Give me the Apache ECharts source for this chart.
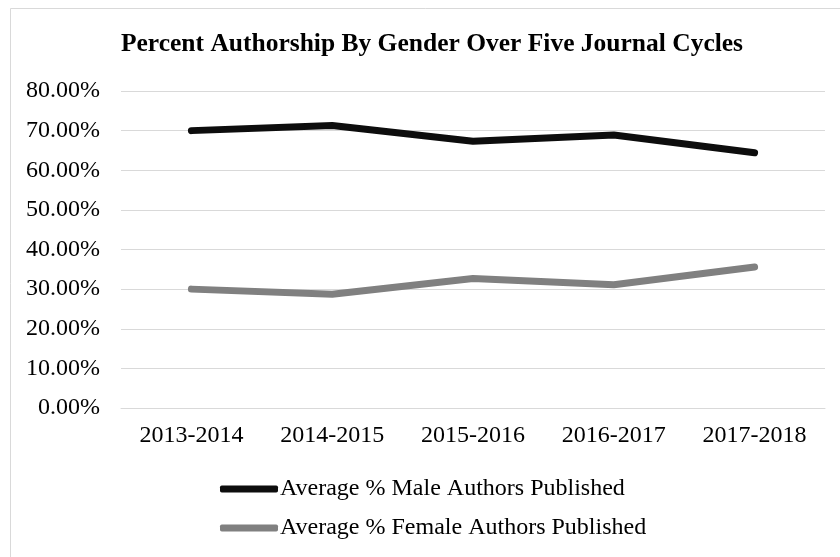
<!DOCTYPE html>
<html>
<head>
<meta charset="utf-8">
<script src="https://cdn.jsdelivr.net/npm/echarts@6/dist/echarts.min.js"></script>
<style>
  html, body { margin: 0; padding: 0; background: #fff; }
  #chart { width: 840px; height: 557px; }
</style>
</head>
<body>
<div id="chart"></div>
<script>
// Journal cycles on the x axis
const cycles = ['2013-2014', '2014-2015', '2015-2016', '2016-2017', '2017-2018'];
// Average share of published authors, in percent
const maleShare = [70.0, 71.3, 67.3, 68.9, 64.4];
const femaleShare = [30.0, 28.7, 32.7, 31.1, 35.6];
const seriesNames = ['Average % Male Authors Published', 'Average % Female Authors Published'];
const titleText = 'Percent Authorship By Gender Over Five Journal Cycles';

const FONT = "'Liberation Serif', 'Times New Roman', serif";
const chart = echarts.init(document.getElementById('chart'), null, { renderer: 'canvas' });

chart.setOption({
  backgroundColor: '#ffffff',
  animation: false,
  graphic: [
    {
      type: 'rect',
      shape: { x: 10.5, y: 8.5, width: 840, height: 560 },
      style: { fill: 'none', stroke: '#d9d9d9', lineWidth: 1 },
      silent: true
    },
    {
      type: 'text',
      x: 432,
      y: 44,
      style: {
        text: titleText,
        font: 'bold 25.5px ' + FONT,
        fill: '#000000',
        textAlign: 'center',
        textVerticalAlign: 'middle'
      }
    }
  ],
  grid: { left: 121, right: 15, top: 91, bottom: 149, containLabel: false },
  xAxis: {
    type: 'category',
    data: cycles,
    boundaryGap: true,
    axisLine: { show: true, lineStyle: { color: '#d9d9d9', width: 1 } },
    axisTick: { show: false },
    axisLabel: { color: '#000', fontFamily: FONT, fontSize: 24, margin: 16 }
  },
  yAxis: {
    type: 'value',
    min: 0,
    max: 80,
    interval: 10,
    axisLine: { show: false },
    axisTick: { show: false },
    splitLine: { lineStyle: { color: '#d9d9d9', width: 1 } },
    axisLabel: {
      color: '#000', fontFamily: FONT, fontSize: 24, margin: 21,
      formatter: v => v.toFixed(2) + '%'
    }
  },
  legend: {
    orient: 'vertical',
    left: 215,
    top: 472,
    itemWidth: 58,
    itemHeight: 7,
    itemGap: 15,
    icon: 'roundRect',
    textStyle: { color: '#000', fontFamily: FONT, fontSize: 24, padding: [0, 0, 0, -3] },
    data: seriesNames
  },
  series: [
    {
      name: seriesNames[0],
      type: 'line',
      data: maleShare,
      symbol: 'none',
      color: '#0d0d0d',
      lineStyle: { color: '#0d0d0d', width: 7, cap: 'round', join: 'round' }
    },
    {
      name: seriesNames[1],
      type: 'line',
      data: femaleShare,
      symbol: 'none',
      color: '#808080',
      lineStyle: { color: '#808080', width: 7, cap: 'round', join: 'round' }
    }
  ]
});
</script>
</body>
</html>
